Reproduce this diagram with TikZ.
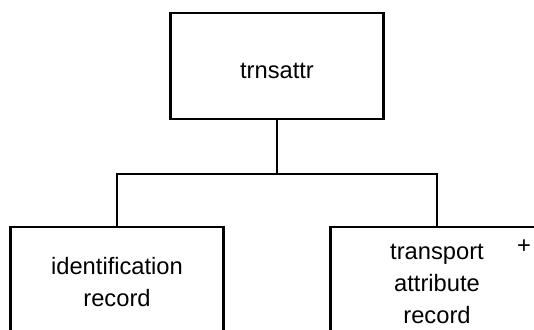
\documentclass[tikz,border=0pt]{standalone}
\usepackage{fontspec}
\setmainfont{Liberation Sans}
\begin{document}
\begin{tikzpicture}[x=1pt,y=1pt,
  box/.style={draw=black, line width=2.9pt, minimum width=213pt, minimum height=106pt, inner sep=0pt, outer sep=0pt},
  lbl/.style={align=center, font=\fontsize{23.7}{32}\selectfont, inner sep=0pt},
  conn/.style={draw=black, line width=2.9pt}]
\useasboundingbox (0,0) rectangle (534,329);
\clip (0,0) rectangle (534,329);
\node[box] (top) at (277,263) {};
\node[box] (left) at (117,49) {};
\node[box] (right) at (437,49) {};
\node[lbl] (toptext) at (277,258.5) {trnsattr};
\node[lbl] (lefttext) at (117,47) {identification\\record};
\node[lbl] (righttext) at (437,45) {transport\\attribute\\record};
\node[lbl] (plus) at (524,82.5) {+};
\coordinate (j) at (277,155);
\draw[conn] (top.south) -- (j);
\draw[conn] (j) -| (left.north);
\draw[conn] (j) -| (right.north);
\end{tikzpicture}
\end{document}
